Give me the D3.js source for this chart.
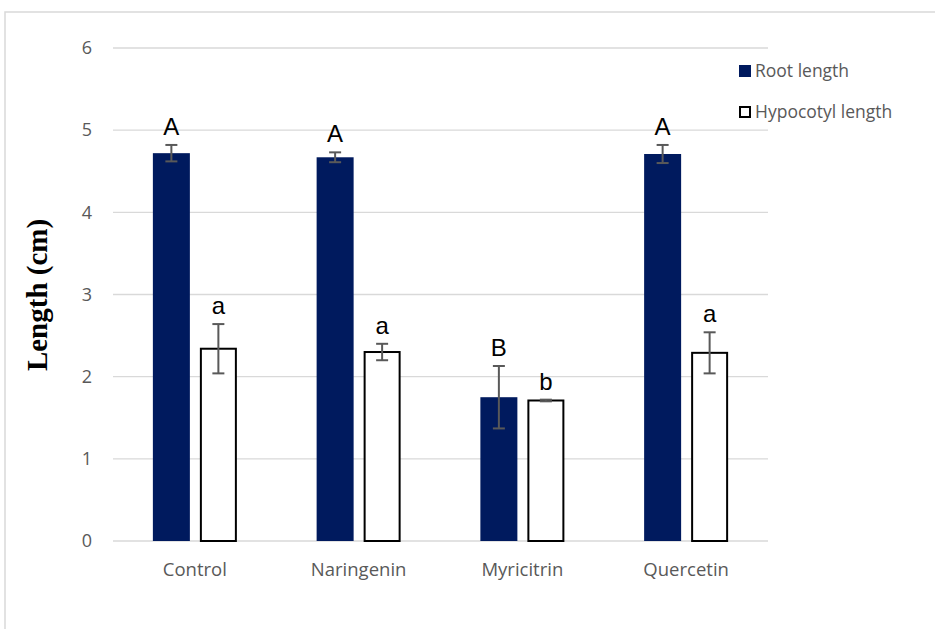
<!DOCTYPE html>
<html>
  <meta charset="utf-8" />
  <head>
    <script src="https://d3js.org/d3.v7.min.js"></script>
    <style>
      body {
        margin: 0;
        background: #fff;
      }
    </style>
  </head>
  <body>
    <svg id="chart" width="935" height="629"></svg>

    <script>
      // data
      const categories = ["Control", "Naringenin", "Myricitrin", "Quercetin"];
      const seriesNames = ["Root length", "Hypocotyl length"];
      const rootLength = [4.72, 4.67, 1.75, 4.71];
      const rootError = [0.1, 0.06, 0.38, 0.11];
      const rootLetters = ["A", "A", "B", "A"];
      const hypoLength = [2.34, 2.3, 1.71, 2.29];
      const hypoError = [0.3, 0.1, 0.01, 0.25];
      const hypoLetters = ["a", "a", "b", "a"];
      const yTicks = [0, 1, 2, 3, 4, 5, 6];

      const sansFont = "'Open Sans', 'Liberation Sans', sans-serif";

      const svg = d3.select("#chart");

      // chart area border (only top/left visible, it runs off the page)
      svg
        .append("rect")
        .attr("x", 5)
        .attr("y", 12)
        .attr("width", 960)
        .attr("height", 660)
        .attr("fill", "none")
        .attr("stroke", "#d9d9d9")
        .attr("stroke-width", 1.5);

      const plotLeft = 113,
        plotRight = 768,
        plotTop = 48,
        plotBottom = 541;

      const x = d3.scaleBand().domain(categories).range([plotLeft, plotRight]);
      const xs = d3
        .scaleBand()
        .domain(seriesNames)
        .range([0, 84])
        .paddingInner(10 / 47);
      const y = d3.scaleLinear().domain([0, 6]).range([plotBottom, plotTop]);

      const offset = (x.bandwidth() - 84) / 2;

      // gridlines
      svg
        .append("g")
        .selectAll("line")
        .data(yTicks)
        .join("line")
        .attr("x1", plotLeft)
        .attr("x2", plotRight)
        .attr("y1", (d) => y(d))
        .attr("y2", (d) => y(d))
        .attr("stroke", "#d9d9d9")
        .attr("stroke-width", 1.3);

      // y axis labels
      svg
        .append("g")
        .selectAll("text")
        .data(yTicks)
        .join("text")
        .attr("x", 92)
        .attr("y", (d) => y(d))
        .attr("dy", "0.35em")
        .attr("text-anchor", "end")
        .style("font-family", sansFont)
        .style("font-size", "18px")
        .attr("fill", "#595959")
        .text((d) => d);

      // x axis labels
      const xAxis = svg
        .append("g")
        .attr("transform", `translate(0, ${plotBottom})`)
        .call(d3.axisBottom(x).tickSize(0).tickPadding(22));
      xAxis.select(".domain").remove();
      xAxis
        .selectAll("text")
        .style("font-family", sansFont)
        .style("font-size", "18.5px")
        .attr("fill", "#595959");

      const rows = categories
        .map((c, i) => [
          { cat: c, s: seriesNames[0], v: rootLength[i], e: rootError[i], l: rootLetters[i] },
          { cat: c, s: seriesNames[1], v: hypoLength[i], e: hypoError[i], l: hypoLetters[i] },
        ])
        .flat();

      const bx = (d) => x(d.cat) + offset + xs(d.s);
      const bw = xs.bandwidth();

      // bars
      svg
        .append("g")
        .selectAll("rect")
        .data(rows)
        .join("rect")
        .attr("x", (d) => (d.s === seriesNames[0] ? bx(d) : bx(d) + 1))
        .attr("y", (d) => y(d.v))
        .attr("width", (d) => (d.s === seriesNames[0] ? bw : bw - 2))
        .attr("height", (d) => y(0) - y(d.v))
        .attr("fill", (d) => (d.s === seriesNames[0] ? "#001a5e" : "#fff"))
        .attr("stroke", (d) => (d.s === seriesNames[0] ? "none" : "#000"))
        .attr("stroke-width", 2);

      // error bars
      const err = svg.append("g").attr("stroke", "#595959").attr("stroke-width", 2);
      err
        .selectAll("line.v")
        .data(rows)
        .join("line")
        .attr("class", "v")
        .attr("x1", (d) => bx(d) + bw / 2)
        .attr("x2", (d) => bx(d) + bw / 2)
        .attr("y1", (d) => y(d.v + d.e))
        .attr("y2", (d) => y(d.v - d.e));
      err
        .selectAll("line.t")
        .data(rows)
        .join("line")
        .attr("class", "t")
        .attr("x1", (d) => bx(d) + bw / 2 - 6)
        .attr("x2", (d) => bx(d) + bw / 2 + 6)
        .attr("y1", (d) => y(d.v + d.e))
        .attr("y2", (d) => y(d.v + d.e));
      err
        .selectAll("line.b")
        .data(rows)
        .join("line")
        .attr("class", "b")
        .attr("x1", (d) => bx(d) + bw / 2 - 6)
        .attr("x2", (d) => bx(d) + bw / 2 + 6)
        .attr("y1", (d) => y(d.v - d.e))
        .attr("y2", (d) => y(d.v - d.e));

      // significance letters
      svg
        .append("g")
        .selectAll("text")
        .data(rows)
        .join("text")
        .attr("x", (d) => bx(d) + bw / 2)
        .attr("y", (d) => y(d.v + d.e) - 10)
        .attr("text-anchor", "middle")
        .style("font-family", "'Liberation Sans', Arial, sans-serif")
        .style("font-size", "24px")
        .attr("fill", "#000")
        .text((d) => d.l);

      // y axis title
      svg
        .append("text")
        .attr("transform", "translate(47, 295) rotate(-90)")
        .attr("text-anchor", "middle")
        .style("font-family", "'Liberation Serif', 'Times New Roman', serif")
        .style("font-weight", "bold")
        .style("font-size", "29px")
        .attr("fill", "#000")
        .text("Length (cm)");

      // legend
      const legend = svg
        .append("g")
        .selectAll("g")
        .data(seriesNames)
        .join("g")
        .attr("transform", (d, i) => `translate(739, ${65 + i * 41})`);
      legend
        .append("rect")
        .attr("x", (d, i) => (i === 0 ? 0 : 1))
        .attr("y", (d, i) => (i === 0 ? 0 : 1))
        .attr("width", (d, i) => (i === 0 ? 12 : 10))
        .attr("height", (d, i) => (i === 0 ? 12 : 10))
        .attr("fill", (d, i) => (i === 0 ? "#001a5e" : "#fff"))
        .attr("stroke", (d, i) => (i === 0 ? "none" : "#000"))
        .attr("stroke-width", 2);
      legend
        .append("text")
        .attr("x", 16)
        .attr("y", 6)
        .attr("dy", "0.35em")
        .style("font-family", sansFont)
        .style("font-size", "17.5px")
        .attr("fill", "#595959")
        .text((d) => d);
    </script>
  </body>
</html>
